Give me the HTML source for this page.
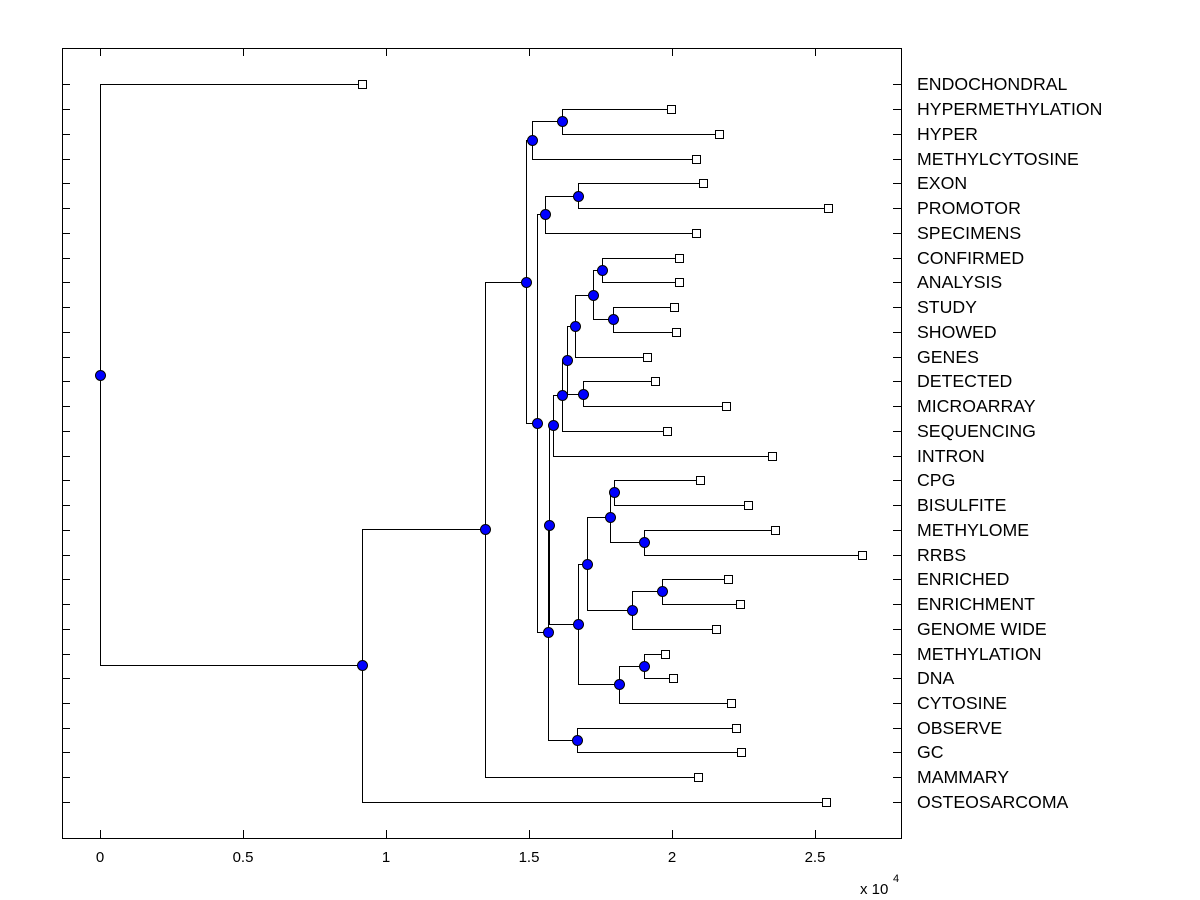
<!DOCTYPE html>
<html><head><meta charset="utf-8"><style>
html,body{margin:0;padding:0;background:#fff;}
svg{display:block;font-family:"Liberation Sans",Arial,sans-serif;}
</style></head><body>
<svg width="1200" height="900" viewBox="0 0 1200 900">
<rect x="0" y="0" width="1200" height="900" fill="#fff"/>
<g fill="none" stroke="#000" stroke-width="1" shape-rendering="crispEdges">
<rect x="62.5" y="48.5" width="839" height="790"/>
<path d="M100.5 838V830M243.5 838V830M386.5 838V830M529.5 838V830M672.5 838V830M815.5 838V830M100.5 48V56M243.5 48V56M386.5 48V56M529.5 48V56M672.5 48V56M815.5 48V56"/>
<path id="yt" d="M62 84.5h8M62 109.5h8M62 134.5h8M62 159.5h8M62 183.5h8M62 208.5h8M62 233.5h8M62 258.5h8M62 282.5h8M62 307.5h8M62 332.5h8M62 357.5h8M62 381.5h8M62 406.5h8M62 431.5h8M62 456.5h8M62 480.5h8M62 505.5h8M62 530.5h8M62 555.5h8M62 579.5h8M62 604.5h8M62 629.5h8M62 654.5h8M62 678.5h8M62 703.5h8M62 728.5h8M62 752.5h8M62 777.5h8M62 802.5h8"/>
<use href="#yt" transform="translate(831,0)"/>
<path d="
M671.5 109.5H562.5V134.5H719
M562.5 121.5H532.5V159.5H696
M703 183.5H578.5V208.5H828
M578.5 196.5H545.5V233.5H696
M679 258.5H602.5V282.5H679
M674 307.5H613.5V332.5H676
M602.5 270.5H593.5V319.5H613.5
M593.5 295.5H575.5V357.5H647
M655 381.5H583.5V406.5H726
M575.5 326.5H567.5V394.5H583.5
M567.5 360.5H562.5V431.5H667
M562.5 395.5H553.5V456.5H772
M700 480.5H614.5V505.5H748
M775 530.5H644.5V555.5H862
M614.5 492.5H610.5V542.5H644.5
M728 579.5H662.5V604.5H740
M662.5 591.5H632.5V629.5H716
M610.5 517.5H587.5V610.5H632.5
M665 654.5H644.5V678.5H673
M644.5 666.5H619.5V703.5H731
M587.5 564.5H578.5V684.5H619.5
M553.5 425.5H549.5V624.5H578.5
M736 728.5H577.5V752.5H741
M549.5 525.5H548.5V740.5H577.5
M545.5 214.5H537.5V632.5H548.5
M532.5 140.5H526.5V423.5H537.5
M526.5 282.5H485.5V777.5H698
M485.5 529.5H362.5V802.5H826
M362 84.5H100.5V665.5H362.5
"/>
</g>
<g fill="#00f" stroke="#000" stroke-width="1">
<circle cx="562.5" cy="121.5" r="5"/><circle cx="532.5" cy="140.5" r="5"/>
<circle cx="578.5" cy="196.5" r="5"/><circle cx="545.5" cy="214.5" r="5"/>
<circle cx="602.5" cy="270.5" r="5"/><circle cx="613.5" cy="319.5" r="5"/>
<circle cx="593.5" cy="295.5" r="5"/><circle cx="575.5" cy="326.5" r="5"/>
<circle cx="583.5" cy="394.5" r="5"/><circle cx="567.5" cy="360.5" r="5"/>
<circle cx="562.5" cy="395.5" r="5"/><circle cx="553.5" cy="425.5" r="5"/>
<circle cx="614.5" cy="492.5" r="5"/><circle cx="644.5" cy="542.5" r="5"/>
<circle cx="610.5" cy="517.5" r="5"/><circle cx="662.5" cy="591.5" r="5"/>
<circle cx="632.5" cy="610.5" r="5"/><circle cx="587.5" cy="564.5" r="5"/>
<circle cx="644.5" cy="666.5" r="5"/><circle cx="619.5" cy="684.5" r="5"/>
<circle cx="578.5" cy="624.5" r="5"/><circle cx="549.5" cy="525.5" r="5"/>
<circle cx="577.5" cy="740.5" r="5"/><circle cx="548.5" cy="632.5" r="5"/>
<circle cx="537.5" cy="423.5" r="5"/><circle cx="526.5" cy="282.5" r="5"/>
<circle cx="485.5" cy="529.5" r="5"/><circle cx="362.5" cy="665.5" r="5"/>
<circle cx="100.5" cy="375.5" r="5"/>
</g>
<g fill="#fff" stroke="#000" stroke-width="1" shape-rendering="crispEdges">
<rect x="358.5" y="80.5" width="8" height="8"/>
<rect x="667.5" y="105.5" width="8" height="8"/>
<rect x="715.5" y="130.5" width="8" height="8"/>
<rect x="692.5" y="155.5" width="8" height="8"/>
<rect x="699.5" y="179.5" width="8" height="8"/>
<rect x="824.5" y="204.5" width="8" height="8"/>
<rect x="692.5" y="229.5" width="8" height="8"/>
<rect x="675.5" y="254.5" width="8" height="8"/>
<rect x="675.5" y="278.5" width="8" height="8"/>
<rect x="670.5" y="303.5" width="8" height="8"/>
<rect x="672.5" y="328.5" width="8" height="8"/>
<rect x="643.5" y="353.5" width="8" height="8"/>
<rect x="651.5" y="377.5" width="8" height="8"/>
<rect x="722.5" y="402.5" width="8" height="8"/>
<rect x="663.5" y="427.5" width="8" height="8"/>
<rect x="768.5" y="452.5" width="8" height="8"/>
<rect x="696.5" y="476.5" width="8" height="8"/>
<rect x="744.5" y="501.5" width="8" height="8"/>
<rect x="771.5" y="526.5" width="8" height="8"/>
<rect x="858.5" y="551.5" width="8" height="8"/>
<rect x="724.5" y="575.5" width="8" height="8"/>
<rect x="736.5" y="600.5" width="8" height="8"/>
<rect x="712.5" y="625.5" width="8" height="8"/>
<rect x="661.5" y="650.5" width="8" height="8"/>
<rect x="669.5" y="674.5" width="8" height="8"/>
<rect x="727.5" y="699.5" width="8" height="8"/>
<rect x="732.5" y="724.5" width="8" height="8"/>
<rect x="737.5" y="748.5" width="8" height="8"/>
<rect x="694.5" y="773.5" width="8" height="8"/>
<rect x="822.5" y="798.5" width="8" height="8"/>
</g>
<g font-size="17.7" fill="#000">
<text x="917" y="90">ENDOCHONDRAL</text>
<text x="917" y="115">HYPERMETHYLATION</text>
<text x="917" y="140">HYPER</text>
<text x="917" y="165">METHYLCYTOSINE</text>
<text x="917" y="189">EXON</text>
<text x="917" y="214">PROMOTOR</text>
<text x="917" y="239">SPECIMENS</text>
<text x="917" y="264">CONFIRMED</text>
<text x="917" y="288">ANALYSIS</text>
<text x="917" y="313">STUDY</text>
<text x="917" y="338">SHOWED</text>
<text x="917" y="363">GENES</text>
<text x="917" y="387">DETECTED</text>
<text x="917" y="412">MICROARRAY</text>
<text x="917" y="437">SEQUENCING</text>
<text x="917" y="462">INTRON</text>
<text x="917" y="486">CPG</text>
<text x="917" y="511">BISULFITE</text>
<text x="917" y="536">METHYLOME</text>
<text x="917" y="561">RRBS</text>
<text x="917" y="585">ENRICHED</text>
<text x="917" y="610">ENRICHMENT</text>
<text x="917" y="635">GENOME WIDE</text>
<text x="917" y="660">METHYLATION</text>
<text x="917" y="684">DNA</text>
<text x="917" y="709">CYTOSINE</text>
<text x="917" y="734">OBSERVE</text>
<text x="917" y="758">GC</text>
<text x="917" y="783">MAMMARY</text>
<text x="917" y="808">OSTEOSARCOMA</text>
</g>
<g font-size="15" fill="#000" text-anchor="middle">
<text x="100" y="862">0</text>
<text x="243" y="862">0.5</text>
<text x="386" y="862">1</text>
<text x="529" y="862">1.5</text>
<text x="672" y="862">2</text>
<text x="815" y="862">2.5</text>
</g>
<text x="860" y="894" font-size="15">x 10</text>
<text x="893" y="882" font-size="11">4</text>
</svg>
</body></html>
